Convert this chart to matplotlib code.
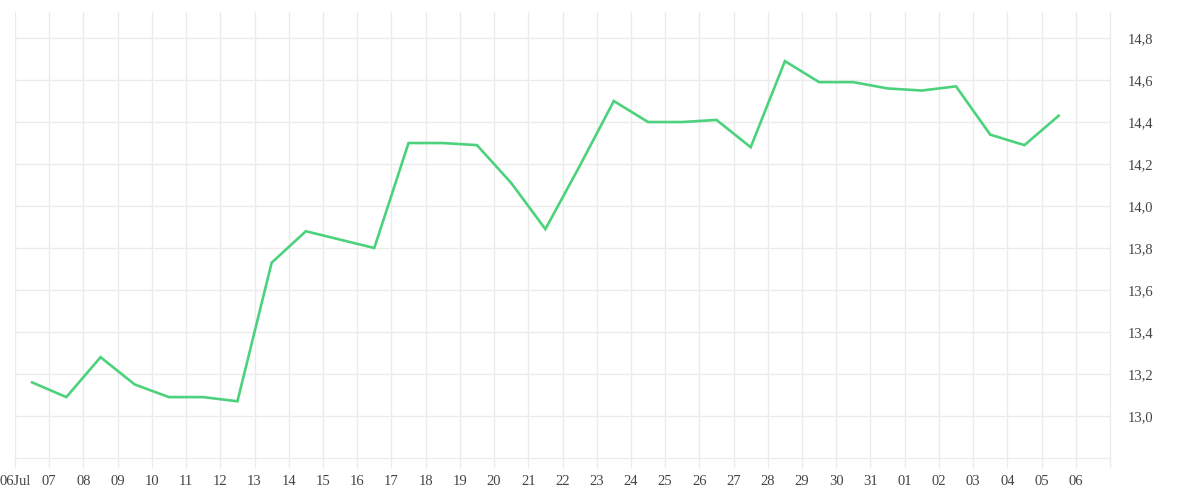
import datetime as dt
import matplotlib
matplotlib.use("Agg")
import matplotlib.pyplot as plt
import matplotlib.dates as mdates

# daily values, plotted at midday of each day (06 Jul .. 05 Aug)
days = ["2024-07-06", "2024-07-07", "2024-07-08", "2024-07-09", "2024-07-10", "2024-07-11",
        "2024-07-12", "2024-07-13", "2024-07-14", "2024-07-15", "2024-07-16", "2024-07-17",
        "2024-07-18", "2024-07-19", "2024-07-20", "2024-07-21", "2024-07-22", "2024-07-23",
        "2024-07-24", "2024-07-25", "2024-07-26", "2024-07-27", "2024-07-28", "2024-07-29",
        "2024-07-30", "2024-07-31", "2024-08-01", "2024-08-02", "2024-08-03", "2024-08-04",
        "2024-08-05"]
values = [13.16, 13.09, 13.28, 13.15, 13.09, 13.09,
          13.07, 13.73, 13.88, 13.84, 13.80, 14.30,
          14.30, 14.29, 14.11, 13.89, 14.19, 14.50,
          14.40, 14.40, 14.41, 14.28, 14.69, 14.59,
          14.59, 14.56, 14.55, 14.57, 14.34, 14.29,
          14.43]

tick_days = ["2024-07-06", "2024-07-07", "2024-07-08", "2024-07-09", "2024-07-10", "2024-07-11",
             "2024-07-12", "2024-07-13", "2024-07-14", "2024-07-15", "2024-07-16", "2024-07-17",
             "2024-07-18", "2024-07-19", "2024-07-20", "2024-07-21", "2024-07-22", "2024-07-23",
             "2024-07-24", "2024-07-25", "2024-07-26", "2024-07-27", "2024-07-28", "2024-07-29",
             "2024-07-30", "2024-07-31", "2024-08-01", "2024-08-02", "2024-08-03", "2024-08-04",
             "2024-08-05", "2024-08-06", "2024-08-07"]
tick_labels = ["06Jul", "07", "08", "09", "10", "11", "12", "13", "14", "15", "16", "17",
               "18", "19", "20", "21", "22", "23", "24", "25", "26", "27", "28", "29",
               "30", "31", "01", "02", "03", "04", "05", "06", ""]
y_ticks = [13.0, 13.2, 13.4, 13.6, 13.8, 14.0, 14.2, 14.4, 14.6, 14.8]
y_labels = ["13,0", "13,2", "13,4", "13,6", "13,8", "14,0", "14,2", "14,4", "14,6", "14,8"]

grid_col = "#ebebeb"
text_col = "#444444"
plt.rcParams["font.family"] = ["Liberation Serif", "DejaVu Serif"]

x = [dt.datetime.fromisoformat(d) + dt.timedelta(hours=12) for d in days]
xt = [dt.datetime.fromisoformat(d) for d in tick_days]

fig = plt.figure(figsize=(12, 5), dpi=100)
ax = fig.add_axes([0.0125, 0.084, 0.9125, 0.892])

ax.plot(x, values, color="#4cd27c", linewidth=1.9, solid_joinstyle="miter")

ax.set_xlim(xt[0], xt[-1])
ax.set_ylim(12.8, 14.924)

ax.set_xticks(mdates.date2num(xt))
ax.set_xticklabels(tick_labels)
ax.set_yticks(y_ticks)
ax.set_yticklabels(y_labels)
ax.yaxis.tick_right()

ax.grid(True, color=grid_col, linewidth=1.0)
ax.set_axisbelow(True)
for s in ["top", "left"]:
    ax.spines[s].set_visible(False)
ax.spines["right"].set_color(grid_col)
ax.spines["bottom"].set_color(grid_col)

ax.tick_params(axis="x", direction="out", length=7.2, width=1.0, color=grid_col,
               labelsize=10.5, labelcolor=text_col, pad=5)
ax.tick_params(axis="y", length=0, labelsize=10.5, labelcolor=text_col, pad=13)

fig.savefig("out.png", dpi=100)
